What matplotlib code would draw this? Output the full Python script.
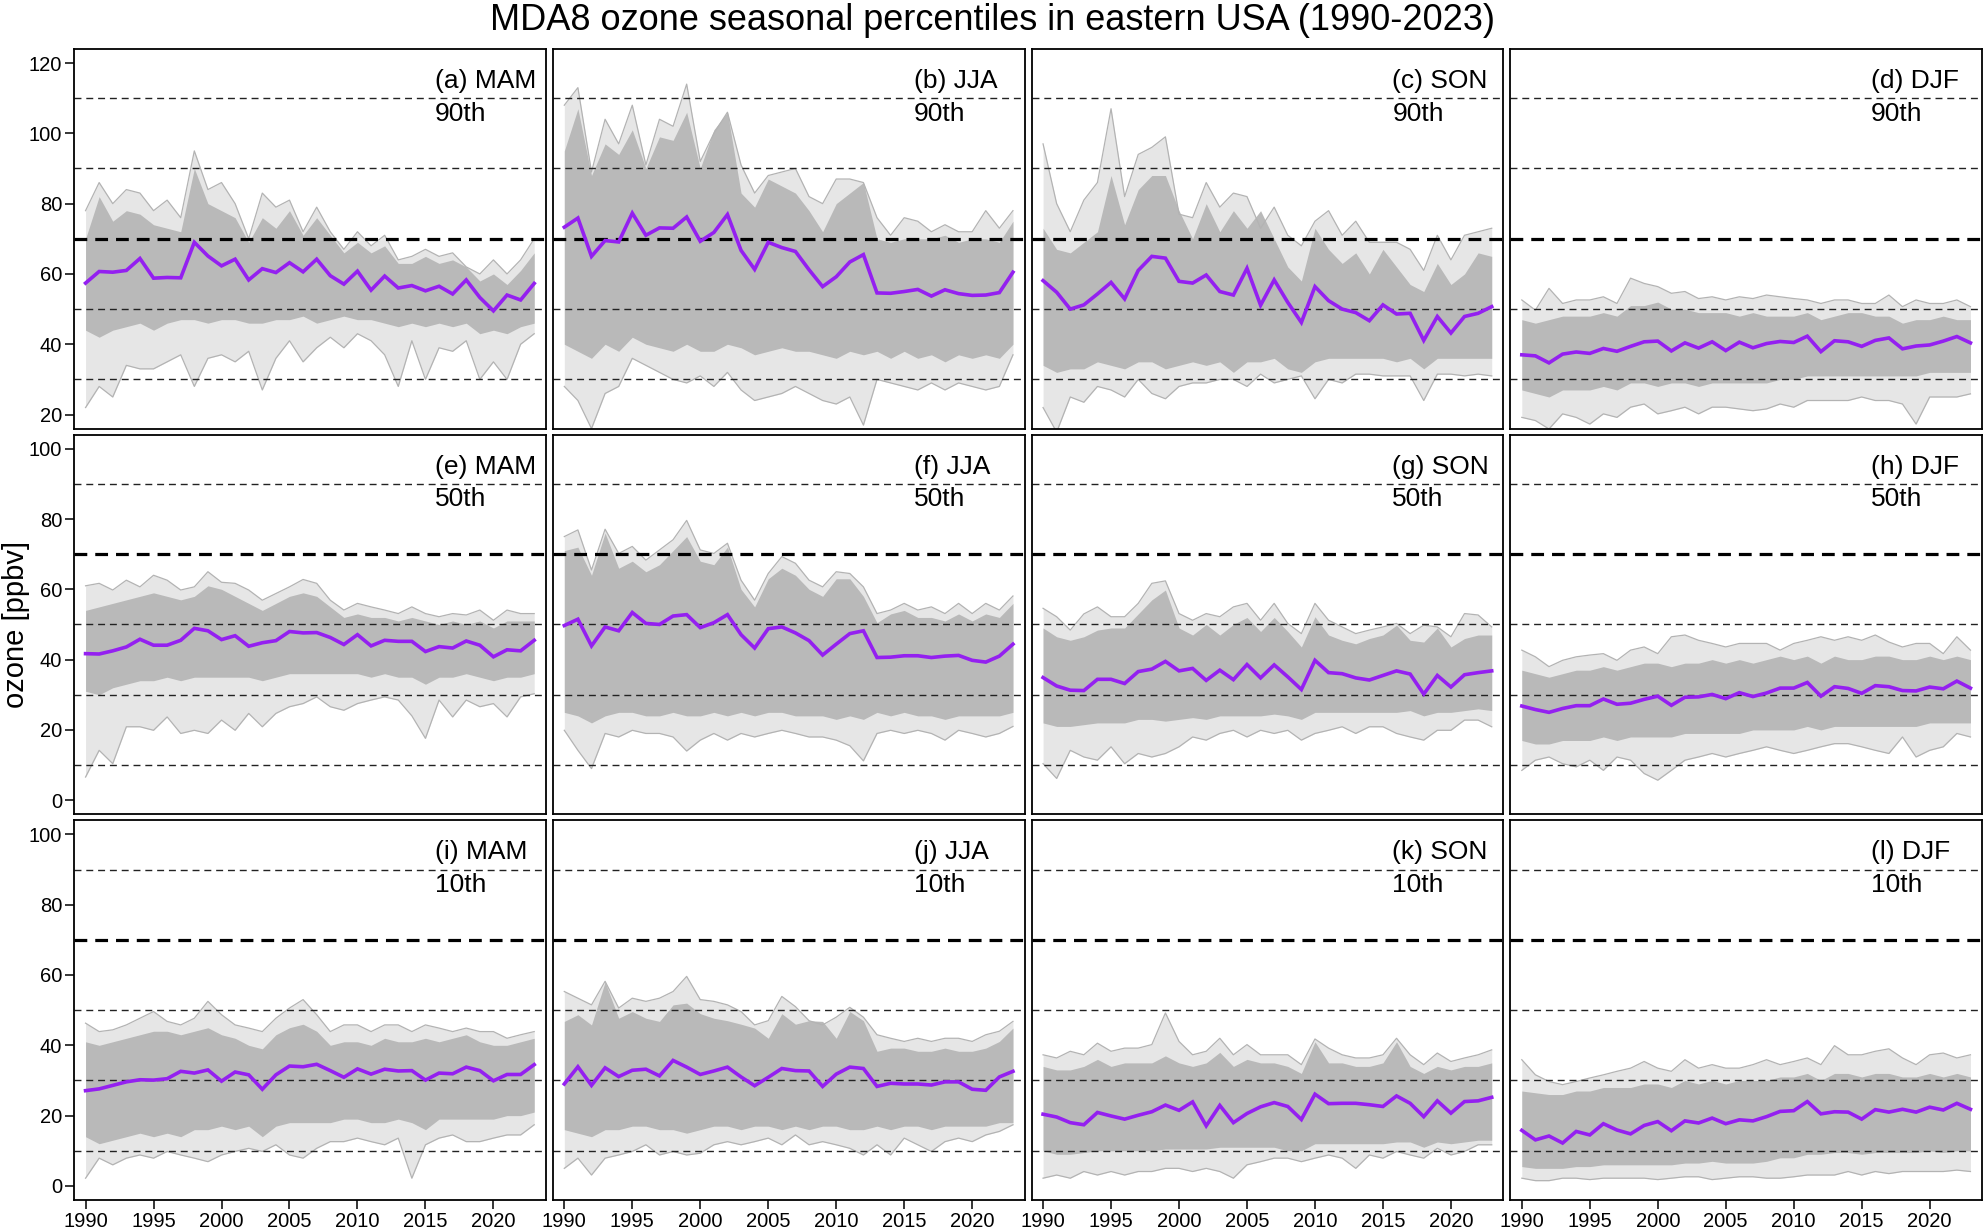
import matplotlib
matplotlib.use('Agg')
import matplotlib.pyplot as plt

plt.rcParams['font.family'] = ['Liberation Sans', 'DejaVu Sans']

years = list(range(1990, 2024))

# --- row 1: 90th percentile ---
med_a = [57.4, 60.7, 60.5, 61.0, 64.4, 58.8, 59.0, 58.9, 69.0, 65.1, 62.3, 64.2, 58.3, 61.5, 60.4, 63.2, 60.6,
         64.2, 59.5, 57.1, 60.8, 55.4, 59.4, 56.0, 56.7, 55.2, 56.5, 54.3, 58.3, 53.3, 49.5, 54.0, 52.6, 57.3]
top_a = [78, 86, 80, 84, 83, 78, 81, 76, 95, 84, 86, 80, 70, 83, 79, 81, 72, 79, 72, 67, 72, 68, 71, 64, 65,
         67, 65, 66, 62, 60, 64, 60, 64, 70]
hi_a = [70, 82, 75, 78, 77, 74, 73, 72, 90, 80, 78, 76, 69, 76, 73, 78, 71, 76, 71, 66, 69, 66, 68, 63, 63,
        65, 63, 64, 62, 58, 60, 57, 61, 66]
lo_a = [44, 42, 44, 45, 46, 44, 46, 47, 47, 46, 47, 47, 46, 46, 47, 47, 48, 46, 47, 48, 47, 47, 46, 45, 46,
        45, 46, 45, 46, 43, 44, 43, 45, 46]
bot_a = [22, 28, 25, 34, 33, 33, 35, 37, 28, 36, 37, 35, 38, 27, 36, 41, 35, 39, 42, 39, 43, 41, 37, 28, 41,
         30, 39, 38, 41, 30, 35, 30, 40, 43]

med_b = [73.3, 75.9, 65.0, 69.5, 69.1, 77.3, 71.0, 73.1, 73.0, 76.2, 69.3, 71.8, 76.9, 66.7, 61.3, 69.0, 67.5,
         66.4, 61.2, 56.4, 59.2, 63.4, 65.5, 54.6, 54.5, 55.0, 55.6, 53.7, 55.5, 54.4, 53.9, 54.0, 54.7, 60.5]
top_b = [108, 113, 89, 104, 97, 108, 91, 104, 102, 114, 92, 100, 106, 91, 83, 88, 89, 90, 82, 80, 87, 87, 86,
         76, 71, 76, 75, 72, 74, 72, 72, 78, 73, 78]
hi_b = [95, 107, 88, 97, 94, 101, 90, 99, 98, 106, 90, 101, 106, 83, 79, 87, 85, 83, 78, 72, 80, 83, 86, 70,
        69, 70, 70, 70, 71, 69, 70, 70, 69, 75]
lo_b = [40, 38, 36, 40, 38, 42, 40, 39, 38, 40, 38, 38, 40, 39, 37, 38, 39, 38, 38, 37, 36, 38, 37, 38, 36,
        38, 36, 37, 35, 37, 36, 37, 36, 40]
bot_b = [28, 24, 16, 26, 28, 36, 34, 32, 30, 29, 31, 28, 32, 27, 24, 25, 26, 28, 26, 24, 23, 25, 17, 30, 29,
         28, 27, 29, 27, 29, 28, 27, 28, 37]

med_c = [58.1, 54.8, 50.0, 51.2, 54.3, 57.6, 52.9, 61.0, 65.0, 64.5, 57.9, 57.4, 59.7, 55.0, 54.0, 61.6, 51.1,
         58.3, 51.9, 46.2, 56.4, 52.4, 50.0, 49.0, 46.7, 51.2, 48.6, 48.8, 41.1, 47.9, 43.2, 47.9, 48.8, 50.7]
top_c = [97, 80, 72, 81, 86, 107, 82, 94, 96, 99, 77, 76, 86, 79, 83, 82, 73, 79, 71, 68, 75, 78, 71, 75, 69,
         69, 69, 67, 61, 71, 64, 71, 72, 73]
hi_c = [73, 67, 66, 69, 72, 88, 74, 84, 88, 88, 78, 70, 80, 72, 78, 73, 78, 70, 62, 58, 73, 67, 63, 66, 60,
        67, 62, 57, 55, 63, 57, 60, 66, 65]
lo_c = [34, 32, 33, 33, 35, 34, 33, 35, 35, 33, 34, 35, 34, 35, 32, 35, 35, 36, 33, 32, 35, 36, 36, 36, 36,
        36, 35, 36, 33, 36, 36, 36, 36, 36]
bot_c = [22, 15, 25, 23.5, 28, 27, 25, 30, 26, 24.5, 28, 29, 29, 30, 30, 28, 31.5, 29, 30, 31, 24.5, 30, 29,
         31.5, 31.5, 31, 31, 31, 24, 31.5, 31.5, 31, 31.5, 31]

med_d = [37.0, 36.7, 34.7, 37.2, 37.8, 37.4, 38.8, 38.0, 39.4, 40.7, 40.9, 38.1, 40.4, 38.9, 40.7, 38.2, 40.6,
         39.0, 40.2, 40.8, 40.5, 42.3, 37.9, 41.0, 40.7, 39.4, 41.1, 41.8, 38.7, 39.5, 39.8, 40.9, 42.2, 40.4]
top_d = [52.6, 49.7, 55.9, 51.6, 52.6, 52.6, 53.5, 51.6, 58.8, 57.3, 56.4, 54.5, 55.0, 53.0, 53.5, 52.6, 53.5,
         53.0, 54.0, 53.5, 53.0, 52.6, 51.6, 52.6, 52.6, 51.6, 51.6, 54.0, 50.7, 52.6, 51.6, 51.6, 52.6, 50.7]
hi_d = [47, 46, 47, 48, 48, 48, 49, 48, 51, 51, 52, 50, 50, 49, 49, 49, 48, 49, 48, 48, 48, 49, 47, 48, 49,
        49, 48, 48, 46, 47, 47, 48, 47, 47]
lo_d = [27, 26, 25, 27, 27, 27, 28, 27, 29, 29, 28, 29, 29, 28, 29, 29, 29, 29, 29, 30, 30, 31, 31, 31, 31,
        31, 31, 31, 31, 31, 32, 32, 32, 32]
bot_d = [19.2, 18.3, 15.9, 20.2, 19.2, 17.3, 20.2, 19.2, 22.1, 23.0, 20.2, 21.1, 22.1, 20.2, 22.1, 22.1, 21.6,
         21.1, 21.6, 23.0, 22.1, 24.0, 24.0, 24.0, 24.0, 25.0, 24.0, 24.0, 23.0, 17.3, 25.0, 25.0, 25.0, 25.9]

# --- row 2: 50th percentile ---
med_e = [41.7, 41.6, 42.5, 43.6, 45.8, 44.1, 44.1, 45.5, 48.9, 48.2, 45.7, 46.8, 43.8, 44.8, 45.4, 48.0, 47.6,
         47.7, 46.3, 44.3, 47.1, 43.9, 45.5, 45.2, 45.2, 42.3, 43.7, 43.3, 45.3, 44.1, 40.8, 42.8, 42.5, 45.5]
top_e = [61, 61.7, 59.8, 62.6, 60.7, 64, 62.6, 59.8, 60.7, 65, 62, 61.7, 59.8, 56.9, 58.8, 60.7, 62.8, 61.7,
         56.9, 54.1, 56, 55, 54.1, 53.1, 55, 53.1, 52.2, 53.1, 52.7, 54.1, 51.2, 54.1, 53.1, 53.1]
hi_e = [54, 55, 56, 57, 58, 59, 58, 57, 58, 61, 60, 58, 56, 54, 56, 58, 59, 58, 55, 52, 53, 52, 52, 51, 52,
        51, 50, 51, 50, 51, 49, 51, 51, 51]
lo_e = [31, 30, 32, 33, 34, 34, 35, 34, 35, 35, 35, 35, 35, 34, 35, 36, 36, 36, 36, 36, 36, 35, 36, 35, 35,
        33, 35, 35, 36, 35, 34, 35, 35, 36]
bot_e = [6.6, 14.2, 10.4, 20.9, 20.9, 19.9, 23.7, 19.0, 19.9, 19.0, 22.8, 19.9, 24.7, 20.9, 24.7, 26.6, 27.5,
         29.4, 26.6, 25.6, 27.5, 28.5, 29.4, 28.5, 24.0, 17.6, 28.5, 23.7, 28.5, 26.6, 27.5, 23.7, 29.4, 30.3]

med_f = [49.7, 51.5, 43.9, 49.3, 48.2, 53.4, 50.3, 50.0, 52.4, 52.8, 49.1, 50.5, 52.8, 47.1, 43.3, 48.8, 49.3,
         47.6, 45.4, 41.3, 44.4, 47.4, 48.2, 40.6, 40.7, 41.1, 41.1, 40.6, 41.0, 41.2, 39.8, 39.3, 41.0, 44.4]
top_f = [75, 76.9, 65.5, 77.1, 70.2, 72.2, 68.3, 71.2, 74.1, 79.6, 71.2, 70.2, 73.1, 62.6, 56.9, 64.5, 69.3,
         67.4, 62.6, 60.7, 65, 64.5, 60.7, 53.1, 54.1, 56, 54.1, 55, 53.1, 56, 53.1, 56, 54.1, 58.1]
hi_f = [71, 72, 64, 76, 66, 68, 65, 67, 71, 75, 68, 67, 72, 60, 55, 63, 66, 64, 60, 58, 63, 63, 58, 50.5, 53,
        54, 52, 52, 51, 53, 51, 53, 52, 56]
lo_f = [25, 24, 22, 24, 25, 25, 24, 24, 25, 24, 24, 25, 24, 25, 24, 25, 25, 24, 24, 24, 23, 24, 23, 25, 24,
        25, 24, 24, 23, 24, 24, 24, 24, 25]
bot_f = [19.9, 14.2, 9.0, 19.0, 18.0, 19.9, 19.0, 19.0, 18.0, 14.0, 17.1, 19.0, 17.1, 19.0, 18.0, 19.0, 19.9,
         19.0, 18.0, 18.0, 17.1, 15.5, 11.2, 19.0, 19.9, 19.0, 19.9, 19.0, 17.1, 19.9, 19.0, 18.0, 19.0, 21.0]

med_g = [34.9, 32.5, 31.3, 31.2, 34.4, 34.4, 33.2, 36.6, 37.3, 39.5, 36.8, 37.5, 34.1, 37.0, 34.3, 38.6, 34.8,
         38.5, 35.1, 31.5, 39.8, 36.3, 36.0, 34.8, 34.2, 35.5, 36.8, 35.9, 30.2, 35.5, 32.2, 35.7, 36.3, 36.8]
top_g = [54.6, 52.2, 48.4, 53, 55, 52.2, 52.2, 56, 61.7, 62.4, 53.1, 51.2, 53.1, 52.2, 55, 56, 51.2, 56, 50.3,
         47.4, 56, 51.2, 49.3, 47.4, 48.4, 49.3, 50.3, 47.4, 49.8, 49.3, 46.5, 53.1, 52.7, 49.3]
hi_g = [49, 46.5, 45.5, 46.5, 48.4, 49, 49, 53, 57, 59.8, 49, 47, 50, 47, 50, 52, 48, 52, 48, 43.6, 52.2, 47,
        45.5, 44.5, 46, 47, 49.8, 45.5, 45, 49, 43.6, 46, 47, 47]
lo_g = [22, 21, 21, 21.5, 22, 22, 22, 23, 23, 22.5, 23, 23.5, 23, 24, 24, 24, 24, 24.5, 24, 23, 25, 25, 25, 25,
        25, 25, 25, 25.5, 24, 25, 25, 25.5, 26, 25.5]
bot_g = [10.4, 6.2, 14.2, 12.3, 11.4, 15.2, 10.4, 13.3, 12.3, 13.3, 15.2, 18.0, 17.1, 19.0, 19.9, 18.0, 19.9,
         19.0, 19.9, 17.1, 19.0, 19.9, 20.9, 19.0, 20.9, 20.9, 19.0, 18.0, 17.1, 19.9, 19.9, 22.8, 22.8, 20.9]

med_h = [26.8, 25.8, 25.0, 26.1, 26.9, 26.9, 28.8, 27.3, 27.6, 28.7, 29.6, 27.0, 29.3, 29.4, 30.1, 28.9, 30.6,
         29.5, 30.5, 31.9, 31.9, 33.5, 29.6, 32.3, 31.8, 30.4, 32.6, 32.3, 31.2, 31.1, 32.2, 31.7, 33.9, 31.9]
top_h = [42.7, 40.8, 38.0, 39.8, 40.8, 41.3, 41.7, 39.8, 42.7, 43.6, 41.7, 46.5, 47.0, 45.5, 44.6, 43.6, 44.6,
         44.6, 44.6, 42.7, 44.6, 45.5, 46.5, 45.5, 46.5, 45.5, 47.0, 45.0, 43.6, 44.6, 44.6, 41.7, 46.5, 42.7]
hi_h = [37, 36, 35, 36, 37, 37, 38, 37, 38, 39, 39, 38, 39, 39, 40, 39, 40, 39, 40, 41, 40, 41, 39, 41, 40,
        40, 41, 41, 40, 40, 41, 40, 41, 40]
lo_h = [17, 16, 16, 17, 17, 17, 18, 17, 18, 18, 18, 18, 19, 19, 19, 19, 19, 20, 20, 20, 20, 21, 20, 21, 21,
        21, 21, 21, 21, 21, 22, 22, 22, 22]
bot_h = [8.5, 11.4, 12.3, 10.4, 9.5, 11.4, 8.5, 12.3, 11.4, 7.6, 5.7, 8.5, 11.4, 12.3, 13.3, 12.3, 13.3, 14.2,
         15.2, 14.2, 13.3, 14.2, 15.2, 16.1, 16.1, 15.2, 14.2, 13.3, 18.0, 12.3, 14.2, 15.2, 19.0, 18.0]

# --- row 3: 10th percentile ---
med_i = [27.1, 27.6, 28.6, 29.6, 30.2, 30.1, 30.5, 32.6, 32.1, 33.0, 29.8, 32.4, 31.6, 27.5, 31.6, 34.1, 33.9,
         34.6, 32.8, 30.9, 33.3, 31.8, 33.2, 32.7, 32.8, 30.1, 32.1, 31.9, 33.8, 32.8, 29.9, 31.7, 31.7, 34.5]
top_i = [46.3, 43.9, 44.4, 45.8, 47.7, 49.6, 46.8, 45.8, 47.7, 52.5, 48.7, 45.8, 44.9, 43.9, 47.7, 50.6, 53.0,
         48.7, 43.9, 45.8, 45.8, 43.9, 45.8, 45.8, 43.9, 45.8, 44.9, 43.9, 44.9, 43.9, 43.9, 42.0, 43.0, 43.9]
hi_i = [41, 40, 41, 42, 43, 44, 44, 43, 44, 45, 43, 42, 40, 39, 43, 45, 46, 44, 40, 41, 41, 40, 42, 41, 41,
        42, 41, 42, 43, 41, 40, 40, 41, 42]
lo_i = [14, 12, 13, 14, 15, 14, 15, 14, 16, 16, 17, 16, 17, 14, 17, 18, 18, 18, 18, 19, 19, 18, 18, 19, 18,
        16, 19, 19, 19, 19, 19, 20, 20, 21]
bot_i = [2.2, 7.9, 6.0, 7.9, 8.8, 7.9, 9.8, 8.8, 7.9, 6.9, 8.8, 9.8, 10.7, 9.8, 11.7, 8.8, 7.9, 10.7, 12.6,
         12.6, 13.6, 12.6, 11.7, 13.6, 2.2, 11.7, 13.6, 14.5, 12.6, 12.6, 13.6, 14.5, 14.5, 17.4]

med_j = [29.0, 33.9, 28.6, 33.6, 31.1, 32.9, 33.2, 31.3, 35.7, 33.8, 31.7, 32.7, 33.8, 31.0, 28.5, 30.9, 33.4,
         32.8, 32.7, 28.3, 31.8, 33.8, 33.4, 28.3, 29.2, 29.0, 29.0, 28.7, 29.6, 29.6, 27.5, 27.2, 31.0, 32.6]
top_j = [55.3, 53.4, 51.5, 58.2, 50.6, 53.4, 52.5, 53.4, 55.3, 59.6, 53.0, 52.5, 51.5, 49.6, 45.8, 47.0, 53.9,
         51.0, 47.0, 45.8, 48.0, 50.8, 48.0, 43.0, 42.0, 41.1, 42.0, 41.1, 42.0, 42.0, 41.1, 43.0, 44.0, 46.8]
hi_j = [46.8, 48.7, 45.8, 58, 47.7, 49.6, 47.7, 46.8, 51.5, 52, 49, 47.7, 47, 46, 44.9, 42, 49, 46, 47, 46.8,
        42, 49.6, 47, 38.3, 39.2, 39.2, 38.3, 38.3, 39.2, 38.3, 38.3, 39.2, 41.1, 44.9]
lo_j = [16, 15, 14, 16, 16, 17, 17, 16, 16, 15, 16, 17, 17, 16, 17, 17, 16, 17, 16, 17, 17, 16, 16, 17, 16,
        17, 17, 16, 17, 17, 17, 17, 18, 18]
bot_j = [5.0, 7.9, 3.1, 7.9, 8.8, 9.8, 11.7, 8.8, 9.8, 8.8, 9.3, 11.7, 12.6, 11.7, 12.6, 13.6, 11.7, 14.5,
         11.7, 12.6, 11.7, 10.7, 8.8, 11.7, 8.8, 13.6, 11.7, 9.8, 12.6, 13.6, 12.6, 14.5, 15.5, 17.4]

med_k = [20.4, 19.6, 18.0, 17.4, 20.9, 19.9, 19.0, 20.1, 21.1, 23.0, 21.5, 23.9, 17.1, 22.9, 18.0, 20.6, 22.5,
         23.7, 22.6, 18.9, 26.1, 23.4, 23.5, 23.5, 23.1, 22.6, 25.6, 23.5, 19.7, 24.2, 20.7, 24.0, 24.2, 25.2]
top_k = [37.3, 36.4, 38.3, 37.3, 40.6, 38.3, 39.2, 39.2, 40.2, 49.2, 41.1, 37.3, 38.3, 42.0, 37.3, 40.2, 37.3,
         37.3, 37.3, 34.5, 41.8, 39.2, 37.3, 36.4, 36.4, 37.3, 42.0, 37.3, 34.5, 37.8, 35.4, 36.4, 37.3, 38.7]
hi_k = [34, 33, 33, 34, 36, 34, 35, 35, 35, 37, 35, 34, 35, 38, 34, 36, 35, 35, 34, 32, 41, 35, 35, 34, 34,
        35, 41, 34, 32, 34, 33, 34, 34, 35]
lo_k = [10, 9, 9, 9.5, 10, 10, 10, 10, 10, 10.5, 10.5, 10.5, 10.5, 11, 11, 11, 11, 11, 10, 10, 12, 12, 12, 12,
        12, 12, 12.5, 12.5, 11, 12.5, 12, 12.5, 13, 13]
bot_k = [2.2, 3.1, 2.2, 4.1, 3.1, 4.1, 3.1, 4.1, 4.1, 5.0, 5.0, 4.1, 5.0, 4.1, 2.2, 6.0, 6.9, 7.9, 7.9, 6.9,
         7.9, 8.8, 7.9, 5.0, 8.8, 7.9, 9.8, 8.8, 7.9, 10.7, 8.8, 9.8, 11.7, 11.7]

med_l = [15.8, 13.1, 14.2, 12.2, 15.5, 14.5, 17.7, 15.9, 14.8, 17.2, 18.3, 15.7, 18.5, 17.9, 19.3, 17.7, 18.8,
         18.5, 19.7, 21.2, 21.4, 24.0, 20.5, 21.1, 21.0, 19.0, 21.7, 21.0, 21.8, 21.0, 22.4, 21.6, 23.5, 21.8]
top_l = [35.9, 31.6, 29.7, 28.8, 29.7, 30.7, 31.6, 32.6, 33.5, 35.4, 33.5, 32.6, 35.9, 33.5, 34.5, 33.5, 33.5,
         34.5, 35.9, 34.5, 35.4, 36.4, 34.5, 39.9, 37.3, 37.3, 38.3, 39.0, 36.4, 34.5, 37.3, 37.8, 36.4, 37.3]
hi_l = [27, 26.5, 26, 26, 27, 27, 28, 28, 28, 29, 29, 28, 30, 29, 30, 29, 30, 30, 30, 31, 31, 32, 30, 32, 32,
        31, 32, 32, 31, 31, 32, 31, 32, 31]
lo_l = [5.5, 5, 5, 5, 5.5, 5.5, 6, 6, 6, 6, 6, 6, 6.5, 6.5, 7, 6.5, 6.5, 6.5, 7, 8, 8, 9, 9, 9.5, 9.5, 9,
        9.5, 9.5, 9.5, 9.5, 10, 9.5, 10, 10]
bot_l = [2.2, 1.5, 1.5, 2.2, 2.2, 1.8, 2.2, 2.2, 2.2, 2.2, 1.8, 2.2, 2.6, 2.6, 1.8, 2.2, 2.6, 2.6, 2.2, 2.2,
         2.6, 3.1, 3.1, 3.1, 4.1, 3.1, 4.1, 3.5, 4.1, 4.1, 4.1, 4.1, 4.5, 4.1]

seasons = ['MAM', 'JJA', 'SON', 'DJF']
pctls = ['90th', '50th', '10th']
letters = 'abcdefghijkl'

panels = [
    (med_a, top_a, hi_a, lo_a, bot_a), (med_b, top_b, hi_b, lo_b, bot_b),
    (med_c, top_c, hi_c, lo_c, bot_c), (med_d, top_d, hi_d, lo_d, bot_d),
    (med_e, top_e, hi_e, lo_e, bot_e), (med_f, top_f, hi_f, lo_f, bot_f),
    (med_g, top_g, hi_g, lo_g, bot_g), (med_h, top_h, hi_h, lo_h, bot_h),
    (med_i, top_i, hi_i, lo_i, bot_i), (med_j, top_j, hi_j, lo_j, bot_j),
    (med_k, top_k, hi_k, lo_k, bot_k), (med_l, top_l, hi_l, lo_l, bot_l),
]

fig, axes = plt.subplots(3, 4, figsize=(19.84, 12.30), dpi=100,
                         gridspec_kw=dict(left=0.0373, right=0.999, top=0.9602, bottom=0.0244,
                                          wspace=0.0148, hspace=0.0158))

grey = '#b9b9b9'
for k, ax in enumerate(axes.flat):
    r, c = divmod(k, 4)
    med, top, hi, lo, bot = panels[k]

    # station spread: sparse outer lines and the dense core
    ax.fill_between(years, bot, top, color=grey, alpha=0.35, lw=0)
    ax.plot(years, top, color='#b3b3b3', lw=0.9)
    ax.plot(years, bot, color='#b3b3b3', lw=0.9)
    ax.fill_between(years, lo, hi, color=grey, lw=0)

    # reference levels
    for lev in [10, 30, 50, 90, 110]:
        ax.axhline(lev, color='#222222', lw=1.0, ls=(0, (5, 3.5)))
    ax.axhline(70, color='black', lw=2.3, ls=(0, (4, 2.5)))

    ax.plot(years, med, color='#9420f0', lw=2.6, solid_joinstyle='miter')

    ax.set_xlim(1989.15, 2023.85)
    if r == 0:
        ax.set_ylim(16, 124)
        yt = [20, 40, 60, 80, 100, 120]
    else:
        ax.set_ylim(-4, 104)
        yt = [0, 20, 40, 60, 80, 100]

    ax.tick_params(direction='out', length=6.5, width=1.1, labelsize=14.5, pad=2)
    if c == 0:
        ax.set_yticks(yt)
    else:
        ax.set_yticks([])
    if r == 2:
        ax.set_xticks([1990, 1995, 2000, 2005, 2010, 2015, 2020])
    else:
        ax.set_xticks([])
    for s in ax.spines.values():
        s.set_linewidth(1.3)

    ax.text(0.765, 0.897, '(%s) %s' % (letters[k], seasons[c]), transform=ax.transAxes,
            fontsize=19, ha='left', va='baseline')
    ax.text(0.765, 0.811, pctls[r], transform=ax.transAxes,
            fontsize=19, ha='left', va='baseline')

fig.text(0.5, 1 - 30 / 1230, 'MDA8 ozone seasonal percentiles in eastern USA (1990-2023)',
         ha='center', va='baseline', fontsize=26)
fig.text(16 / 1984, 1 - 624 / 1230, 'ozone [ppbv]', rotation=90, ha='center', va='center', fontsize=21)

fig.savefig('out.png', dpi=100)
